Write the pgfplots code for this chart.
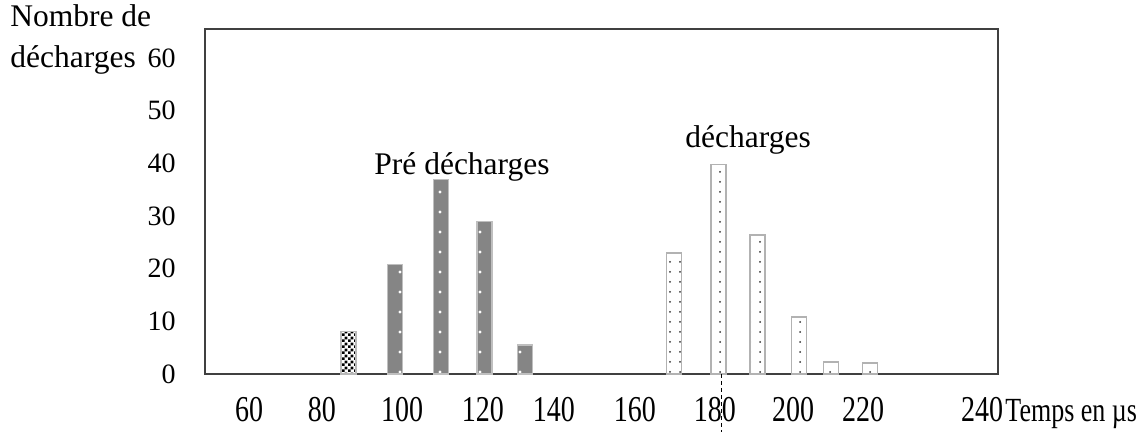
\documentclass[border=0pt]{standalone}
\usepackage{fontspec}
\setmainfont{Liberation Serif}
\usepackage{graphicx}
\usepackage{pgfplots}
\pgfplotsset{compat=1.18}
\usetikzlibrary{patterns,patterns.meta}
\newcommand{\st}[1]{\scalebox{1}[1.3]{#1}}
\definecolor{axisgray}{HTML}{404040}
\tikzdeclarepattern{
  name=smallchecker,
  type=uncolored,
  bottom left={(0pt,0pt)},
  top right={(3pt,3pt)},
  tile size={(3pt,3pt)},
  code={
    \fill (0pt,0pt) rectangle (1.5pt,1.5pt);
    \fill (1.5pt,1.5pt) rectangle (3pt,3pt);
  }
}
\begin{document}
\begin{tikzpicture}
\useasboundingbox (-102.5pt,-29pt) rectangle (470.5pt,187pt);
\begin{axis}[
  at={(0,0)}, anchor=south west,
  scale only axis,
  width=396.5pt, height=172.5pt,
  xmin=50, xmax=250, ymin=0, ymax=65.5,
  axis line style={draw=axisgray, line width=1pt},
  major tick length=0pt,
  ytick={0,10,20,30,40,50,60},
  yticklabels={0,10,20,30,40,50,60},
  yticklabel style={anchor=east, inner sep=0pt, xshift=-14.5pt, font=\fontsize{14}{15}\selectfont},
  xtick={61.1,79.5,99.7,120.1,138.0,158.4,178.6,198.3,216.0,246.0},
  xticklabels={\st{60},\st{80},\st{100},\st{120},\st{140},\st{160},\st{180},\st{200},\st{220},\st{240}},
  xticklabel style={anchor=north, inner sep=0pt, yshift=-11.5pt, font=\fontsize{14}{15}\selectfont},
  ybar, bar width=7.5pt,
  clip=false,
]
% first bar (checkerboard)
\addplot[ybar, bar shift=0pt, draw=gray!55, line width=0.6pt, fill=white,
  postaction={pattern=smallchecker, pattern color=black}]
  coordinates {(86.2,8.0)};
% pre-discharges
\addplot[ybar, bar shift=0pt, draw=gray!50, line width=0.6pt, fill=black!48,
  postaction={pattern={Dots[distance=10pt, radius=0.8pt]}, pattern color=white}]
  coordinates {(98.0,20.8) (109.6,37.0) (120.5,29.0) (130.8,5.5)};
% discharges
\addplot[ybar, bar shift=0pt, draw=gray!60, line width=0.8pt, fill=white,
  postaction={pattern={Dots[distance=5pt, radius=0.5pt]}, pattern color=gray!40!black}]
  coordinates {(168.3,23.0) (179.5,39.8) (189.3,26.4) (199.8,10.8) (207.9,2.3) (217.7,2.1)};
\draw[black, line width=0.6pt, dash pattern=on 2pt off 1.5pt] (axis cs:180.3,0) -- ++(0pt,-29pt);
\end{axis}
\begin{scope}[every node/.style={inner sep=0pt, font=\fontsize{15.75}{18}\selectfont}]
\node[anchor=base west] at (-97.5pt,173.5pt) {Nombre de};
\node[anchor=base west] at (-97.5pt,153.25pt) {décharges};
\node[anchor=base west] at (84.5pt,99.5pt) {Pré décharges};
\node[anchor=base west] at (240pt,113pt) {décharges};
\node[anchor=base west, font=\fontsize{13}{15}\selectfont] at (400pt,-24pt) {\st{Temps en µs}};
\end{scope}
\end{tikzpicture}
\end{document}
